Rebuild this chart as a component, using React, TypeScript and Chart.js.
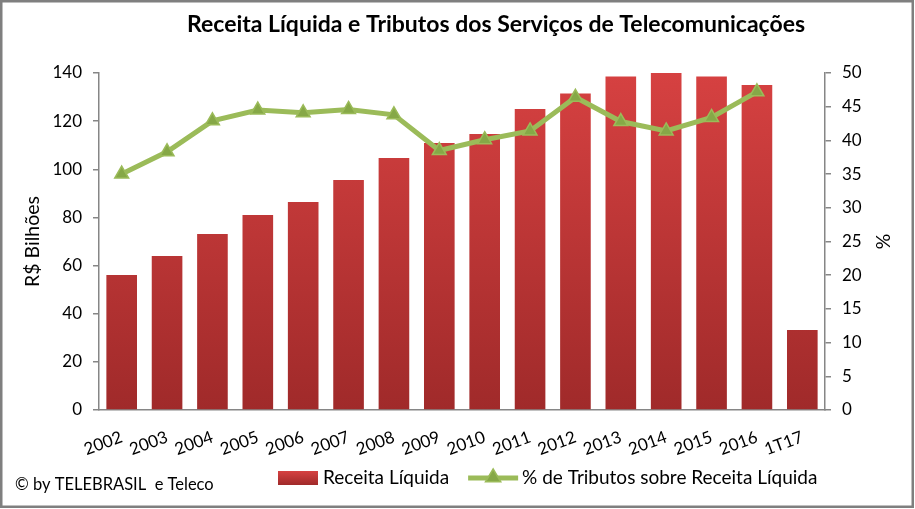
import React, { useEffect, useRef } from "react";
import { Chart, registerables } from "chart.js";

Chart.register(...registerables);

const FONT = "Lato, 'Open Sans', sans-serif";

const chartTitle = "Receita Líquida e Tributos dos Serviços de Telecomunicações";
const copyrightText = "© by TELEBRASIL  e Teleco";

const categories = [
  "2002", "2003", "2004", "2005", "2006", "2007", "2008", "2009",
  "2010", "2011", "2012", "2013", "2014", "2015", "2016", "1T17",
];

// R$ Bilhões
const receitaLiquida = [
  56.1, 64.0, 73.1, 81.0, 86.4, 95.6, 104.7, 110.9,
  114.7, 125.0, 131.5, 138.5, 140.0, 138.5, 135.0, 33.2,
];

// %
const tributosPct = [
  35.0, 38.3, 42.9, 44.5, 44.1, 44.6, 43.8, 38.5,
  40.1, 41.4, 46.4, 42.8, 41.4, 43.4, 47.2, null,
];

const leftAxis = { min: 0, max: 140, step: 20, title: "R$ Bilhões" };
const rightAxis = { min: 0, max: 50, step: 5, title: "%" };

const seriesLabels = ["Receita Líquida", "% de Tributos sobre Receita Líquida"];

const RED_TOP = "#d64141";
const RED_BOTTOM = "#a02a2a";
const GREEN = "#9bbb59";
const GREEN_DARK = "#86a847";
const AXIS_GRAY = "#868686";

function redGradient(ctx: CanvasRenderingContext2D, top: number, bottom: number) {
  const g = ctx.createLinearGradient(0, top, 0, bottom);
  g.addColorStop(0, RED_TOP);
  g.addColorStop(1, RED_BOTTOM);
  return g;
}

function drawTriangle(ctx: CanvasRenderingContext2D, cx: number, cy: number, r: number) {
  ctx.beginPath();
  ctx.moveTo(cx, cy - r);
  ctx.lineTo(cx + r * 0.95, cy + r * 0.6);
  ctx.lineTo(cx - r * 0.95, cy + r * 0.6);
  ctx.closePath();
  ctx.fillStyle = GREEN_DARK;
  ctx.fill();
  ctx.strokeStyle = GREEN;
  ctx.lineWidth = 1.5;
  ctx.stroke();
}

const decorPlugin = {
  id: "decor",
  beforeDraw(chart: any) {
    const { ctx, width, height } = chart;
    ctx.save();
    ctx.fillStyle = "#ffffff";
    ctx.fillRect(0, 0, width, height);
    ctx.restore();
  },
  afterDraw(chart: any) {
    const { ctx, width, height } = chart;
    ctx.save();
    // Title
    ctx.font = `bold 23px ${FONT}`;
    ctx.fillStyle = "#000";
    ctx.textAlign = "center";
    ctx.textBaseline = "middle";
    ctx.fillText(chartTitle, 496, 25);

    // Legend
    const ly = 478;
    ctx.font = `19px ${FONT}`;
    ctx.textAlign = "left";
    ctx.fillStyle = redGradient(ctx, ly - 7, ly + 7);
    ctx.fillRect(278, ly - 7, 40, 14);
    ctx.fillStyle = "#000";
    ctx.fillText(seriesLabels[0], 323, ly);
    const w1 = ctx.measureText(seriesLabels[0]).width;
    const mx = 323 + w1 + 19;
    ctx.strokeStyle = GREEN;
    ctx.lineWidth = 5;
    ctx.beginPath();
    ctx.moveTo(mx, ly);
    ctx.lineTo(mx + 50, ly);
    ctx.stroke();
    drawTriangle(ctx, mx + 25, ly - 1, 8);
    ctx.fillStyle = "#000";
    ctx.fillText(seriesLabels[1], mx + 54, ly);

    // Copyright
    ctx.font = `16.5px ${FONT}`;
    ctx.fillText(copyrightText, 15, 485);

    // Border
    ctx.strokeStyle = "#7f7f7f";
    ctx.lineWidth = 2.5;
    ctx.strokeRect(1.25, 1.25, width - 3.5, height - 3.5);
    ctx.restore();
  },
};

export default function App() {
  const canvasRef = useRef<HTMLCanvasElement | null>(null);

  useEffect(() => {
    if (!canvasRef.current) return;
    const axisTitleFont = { family: FONT, size: 19.5 };
    const chart = new Chart(canvasRef.current, {
      type: "bar",
      data: {
        labels: categories,
        datasets: [
          {
            type: "line",
            label: seriesLabels[1],
            data: tributosPct as any,
            yAxisID: "y1",
            borderColor: GREEN,
            borderWidth: 5,
            pointStyle: "triangle",
            pointRadius: 8,
            pointHoverRadius: 8,
            pointBackgroundColor: GREEN_DARK,
            pointBorderColor: GREEN,
            pointBorderWidth: 1.5,
            tension: 0,
            order: 0,
          } as any,
          {
            type: "bar",
            label: seriesLabels[0],
            data: receitaLiquida,
            yAxisID: "y",
            backgroundColor: (c: any) => {
              const a = c.chart.chartArea;
              if (!a) return RED_TOP;
              return redGradient(c.chart.ctx, a.top, a.bottom);
            },
            barPercentage: 0.675,
            categoryPercentage: 1,
            order: 1,
          } as any,
        ],
      },
      options: {
        responsive: false,
        animation: false,
        layout: { padding: { left: 0, right: 0, top: 73, bottom: 0 } },
        plugins: {
          legend: { display: false },
          title: { display: false },
          tooltip: { enabled: false },
        },
        scales: {
          x: {
            offset: true,
            grid: { display: false, drawTicks: false },
            border: { display: true, color: AXIS_GRAY, width: 1.5 },
            ticks: {
              font: { family: FONT, size: 17 },
              color: "#000",
              minRotation: 20,
              maxRotation: 20,
              autoSkip: false,
              padding: 17,
            },
            afterFit: (s: any) => {
              s.height = 99;
            },
          },
          y: {
            position: "left",
            min: leftAxis.min,
            max: leftAxis.max,
            grid: {
              display: true,
              drawOnChartArea: false,
              drawTicks: true,
              tickLength: 6,
              color: AXIS_GRAY,
              lineWidth: 1.5,
            },
            border: { display: true, color: AXIS_GRAY, width: 1.5 },
            ticks: {
              stepSize: leftAxis.step,
              font: { family: FONT, size: 17 },
              color: "#000",
              padding: 11,
            },
            title: {
              display: true,
              text: leftAxis.title,
              font: axisTitleFont,
              color: "#000",
              padding: { top: 21, bottom: 0 },
            },
            afterFit: (s: any) => {
              s.width = 99;
            },
          },
          y1: {
            position: "right",
            min: rightAxis.min,
            max: rightAxis.max,
            grid: {
              display: true,
              drawOnChartArea: false,
              drawTicks: true,
              tickLength: 6,
              color: AXIS_GRAY,
              lineWidth: 1.5,
            },
            border: { display: true, color: AXIS_GRAY, width: 1.5 },
            ticks: {
              stepSize: rightAxis.step,
              font: { family: FONT, size: 17 },
              color: "#000",
              padding: 11,
            },
            title: {
              display: true,
              text: rightAxis.title,
              font: axisTitleFont,
              color: "#000",
              padding: { top: 21, bottom: 0 },
            },
            afterFit: (s: any) => {
              s.width = 90;
            },
          },
        },
      } as any,
      plugins: [decorPlugin as any],
    });
    return () => chart.destroy();
  }, []);

  return (
    <div style={{ position: "absolute", left: 0, top: 0, width: 915, height: 509 }}>
      <canvas ref={canvasRef} width={915} height={509} />
    </div>
  );
}
